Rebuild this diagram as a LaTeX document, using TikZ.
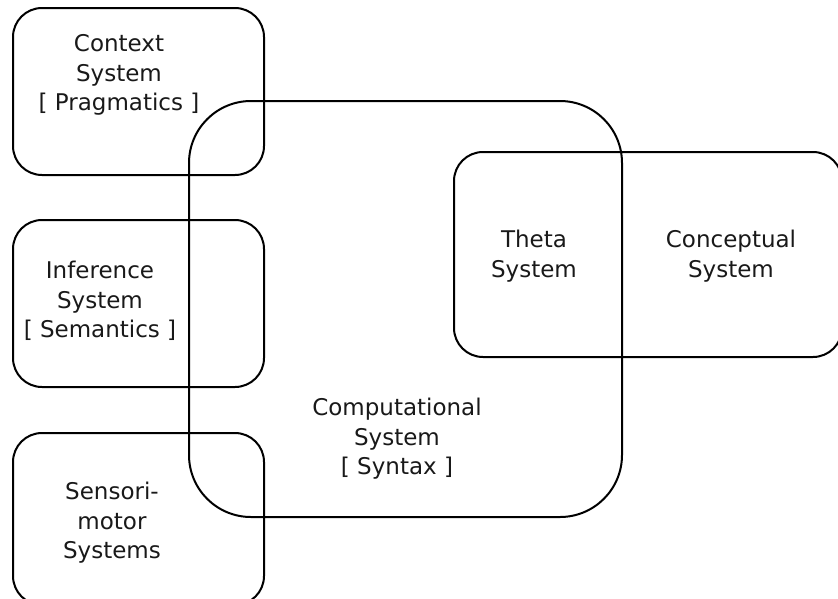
\documentclass[tikz,border=0pt]{standalone}
\usepackage{fontspec}
\setmainfont{DejaVu Sans}
\begin{document}
\begin{tikzpicture}[x=1pt, y=-1pt, line join=round, line cap=round,
	sysbox/.style={line width=2pt, rounded corners=29pt},
	compbox/.style={line width=2pt, rounded corners=62pt},
	lbl/.style={align=center, inner sep=0pt, text=black!90, font=\fontsize{23}{29.5}\selectfont}]
	\useasboundingbox (0,0) rectangle (838,598);
	\path
	(13,8) coordinate (ctxA) (264,175) coordinate (ctxB)
	(13,220) coordinate (infA) (264,387) coordinate (infB)
	(13,433) coordinate (senA) (264,605) coordinate (senB)
	(189,101) coordinate (cmpA) (622,517) coordinate (cmpB)
	(454,152) coordinate (cnpA) (842,357) coordinate (cnpB)
	;
	\draw[sysbox] (ctxA) rectangle (ctxB);
	\draw[sysbox] (infA) rectangle (infB);
	\draw[sysbox] (senA) rectangle (senB);
	\draw[compbox] (cmpA) rectangle (cmpB);
	\draw[sysbox] (cnpA) rectangle (cnpB);
	\node[lbl] (context) at (119,75) {Context\\System\\{[} Pragmatics {]}};
	\node[lbl] (inference) at (100,301) {Inference\\System\\{[} Semantics {]}};
	\node[lbl] (sensori) at (112,523) {Sensori-\\motor\\Systems};
	\node[lbl] (comp) at (397,439) {Computational\\System\\{[} Syntax {]}};
	\node[lbl] (theta) at (534,256) {Theta\\System};
	\node[lbl] (concept) at (731,256) {Conceptual\\System};
\end{tikzpicture}
\end{document}
